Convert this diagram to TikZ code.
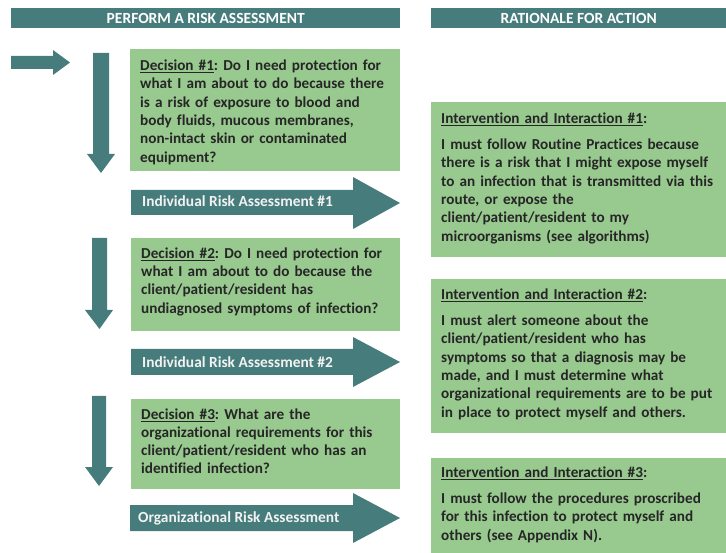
\documentclass[tikz,border=0pt]{standalone}
\usepackage{fontspec}
\setmainfont{Carlito}[Ligatures=NoCommon]
\definecolor{tealc}{HTML}{477C7C}
\definecolor{greenc}{HTML}{98C98F}
\definecolor{ink}{HTML}{262626}
\definecolor{lbl}{HTML}{F2F2F2}
\newcommand{\uln}[1]{\setbox0\hbox{#1}\rlap{\rule[-2.8pt]{\wd0}{1.2pt}}\box0}
\frenchspacing
\begin{document}
\begin{tikzpicture}[x=1pt,y=-1pt,
  hbar/.style={fill=tealc, inner sep=0pt, anchor=north west, text=white,
    font=\fontsize{15.5}{18.3}\selectfont\bfseries},
  gbox/.style={fill=greenc, inner sep=0pt, anchor=north west},
  txt/.style={inner sep=0pt, anchor=base west, text=ink, align=left, text width=285pt,
    font=\fontsize{15.2}{18.3}\selectfont\bfseries\frenchspacing},
  albl/.style={inner sep=0pt, anchor=base west, text=lbl,
    font=\fontsize{15.4}{18.3}\selectfont\bfseries},
  blk/.style={fill=tealc}]
\useasboundingbox (0,0) rectangle (726,553);

% headers
\node[hbar, minimum width=389pt, minimum height=20pt] (h1) at (11,8) {PERFORM A RISK ASSESSMENT};
\node[hbar, minimum width=295pt, minimum height=20pt] (h2) at (431,8) {RATIONALE FOR ACTION};

% green boxes
\node[gbox, minimum width=270pt, minimum height=122pt] (d1) at (130,49) {};
\node[gbox, minimum width=269pt, minimum height=93pt] (d2) at (131,238) {};
\node[gbox, minimum width=269pt, minimum height=90pt] (d3) at (131,399) {};
\node[gbox, minimum width=295pt, minimum height=155pt] (i1) at (431,102) {};
\node[gbox, minimum width=295pt, minimum height=154pt] (i2) at (431,279) {};
\node[gbox, minimum width=295pt, minimum height=95pt] (i3) at (431,458) {};

% entry arrow
\fill[blk] (11,56) -- (53,56) -- (53,50) -- (70,62.5) -- (53,75) -- (53,69) -- (11,69) -- cycle;

% down arrows
\fill[blk] (93,53) -- (109,53) -- (109,154) -- (115,154) -- (101,173) -- (87,154) -- (93,154) -- cycle;
\fill[blk] (92,238) -- (107,238) -- (107,310) -- (113,310) -- (99.5,329) -- (85,310) -- (92,310) -- cycle;
\fill[blk] (92,396) -- (106,396) -- (106,467) -- (113,467) -- (99,486) -- (85,467) -- (92,467) -- cycle;

% right block arrows
\fill[blk] (131,190) -- (353,190) -- (353,177) -- (400,203) -- (353,229) -- (353,215) -- (131,215) -- cycle;
\fill[blk] (131,349) -- (353,349) -- (353,337) -- (400,362) -- (353,387) -- (353,375) -- (131,375) -- cycle;
\fill[blk] (130,505) -- (353,505) -- (353,493) -- (400,518) -- (353,543) -- (353,531) -- (130,531) -- cycle;

\node[albl] (a1) at (142,207) {Individual Risk Assessment \#1};
\node[albl] (a2) at (142,367.3) {Individual Risk Assessment \#2};
\node[albl] (a3) at (138,522.3) {Organizational Risk Assessment};

% texts
\node[txt] (d1t) at (140,70.7) {\uln{Decision \#1}: Do I need protection for\\ what I am about to do because there\\ is a risk of exposure to blood and\\ body fluids, mucous membranes,\\ non-intact skin or contaminated\\ equipment?};
\node[txt] (d2t) at (141,258.3) {\uln{Decision \#2}: Do I need protection for\\ what I am about to do because the\\ client/patient/resident has\\ undiagnosed symptoms of infection?};
\node[txt] (d3t) at (141,419) {\uln{Decision \#3}: What are the\\ organizational requirements for this\\ client/patient/resident who has an\\ identified infection?};

\node[txt] (i1t) at (441,123.3) {\uln{Intervention and Interaction \#1}:\\[8pt] I must follow Routine Practices because\\ there is a risk that I might expose myself\\ to an infection that is transmitted via this\\ route, or expose the\\ client/patient/resident to my\\ microorganisms (see algorithms)};
\node[txt] (i2t) at (441,299.3) {\uln{Intervention and Interaction \#2}:\\[8pt] I must alert someone about the\\ client/patient/resident who has\\ symptoms so that a diagnosis may be\\ made, and I must determine what\\ organizational requirements are to be put\\ in place to protect myself and others.};
\node[txt] (i3t) at (441,477.3) {\uln{Intervention and Interaction \#3}:\\[8pt] I must follow the procedures proscribed\\ for this infection to protect myself and\\ others (see Appendix N).};
\end{tikzpicture}
\end{document}
